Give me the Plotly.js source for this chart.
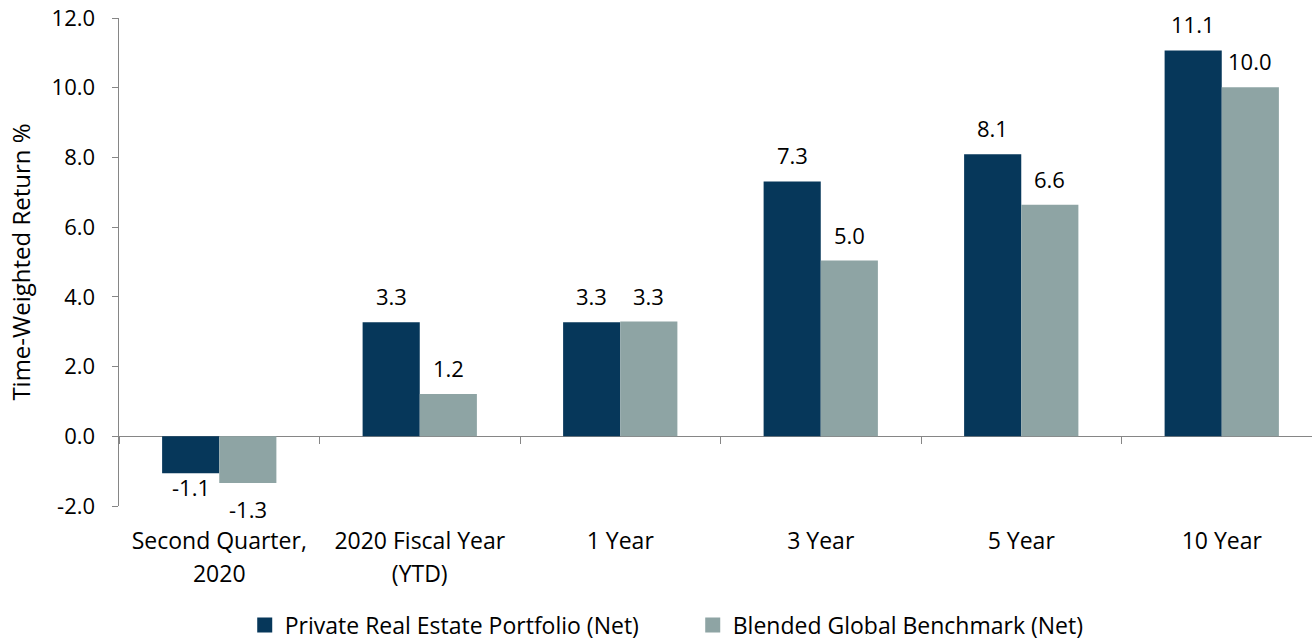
<!DOCTYPE html>
<html><head><meta charset="utf-8">
<script src="https://cdn.plot.ly/plotly-3.0.1.min.js"></script>
<style>html,body{margin:0;padding:0;background:#fff;overflow:hidden}#chart{width:1322px;height:641px}</style>
</head><body><div id="chart"></div>
<script>
const categories = ["Second Quarter,<br>2020", "2020 Fiscal Year<br>(YTD)", "1 Year", "3 Year", "5 Year", "10 Year"];
const seriesNames = ["Private Real Estate Portfolio (Net)", "Blended Global Benchmark (Net)"];
const portfolioNet = [-1.06, 3.27, 3.27, 7.31, 8.09, 11.07];
const benchmarkNet = [-1.34, 1.21, 3.29, 5.04, 6.64, 10.01];
const yTickVals = [-2, 0, 2, 4, 6, 8, 10, 12];

const colors = ["#06375a", "#8ea4a4"];
const FONT = "'Open Sans', sans-serif";
const W = 1322, H = 641, ML = 119, MR = 0, MT = 18, MB = 135;
const bargap = 0.43;
const barPx = (W - ML - MR) / categories.length * (1 - bargap) / 2;
const XTICK_SIZE = 23, YTICK_SIZE = 22, LINE_SIZE = 25;

const series = [portfolioNet, benchmarkNet];
const traces = series.map((vals, i) => ({
  type: "bar", x: categories, y: vals, name: seriesNames[i],
  marker: {color: colors[i]}, showlegend: false, hoverinfo: "x+y"
}));
series.forEach((vals, i) => traces.push({
  type: "scatter", mode: "markers", x: [categories[0]], y: [null], name: seriesNames[i],
  marker: {symbol: "square", size: 15, color: colors[i]}, showlegend: true, hoverinfo: "skip"
}));
traces.push({type: "scatter", mode: "lines", x: categories, y: categories.map(() => null),
  xaxis: "x2", showlegend: false, hoverinfo: "skip"});

const annotations = [];
series.forEach((vals, i) => vals.forEach((v, j) => {
  let ys = v >= 0 ? 26 : -14;
  if (v < 0 && i === 1) ys = -26;
  annotations.push({
    x: categories[j], y: v, xref: "x", yref: "y", text: v.toFixed(1), showarrow: false,
    xshift: (i === 0 ? -1 : 1) * barPx / 2, yshift: ys, yanchor: "middle", xanchor: "center",
    font: {family: FONT, size: 22, color: "#000"}
  });
}));

const tickText = categories.map(c => c.split("<br>").map(s => `<span style="font-size:${XTICK_SIZE}px">${s}</span>`).join("<br>"));

const layout = {
  width: W, height: H, margin: {l: ML, r: MR, t: MT, b: MB},
  paper_bgcolor: "#fff", plot_bgcolor: "#fff",
  font: {family: FONT, size: 22, color: "#000"},
  barmode: "group", bargap: bargap, bargroupgap: 0,
  xaxis: {type: "category", showline: false, ticks: "", showgrid: false, zeroline: false,
    tickvals: categories, ticktext: tickText,
    tickfont: {family: FONT, size: LINE_SIZE, color: "#000"}, ticklabelstandoff: 17},
  xaxis2: {type: "category", overlaying: "x", matches: "x", anchor: "free", position: 2 / 14,
    side: "bottom", showline: false, ticks: "outside", tickson: "boundaries", ticklen: 7,
    tickcolor: "#868686", showticklabels: false, showgrid: false},
  yaxis: {range: [-2, 12], tickvals: yTickVals, ticktext: yTickVals.map(v => v.toFixed(1)), showgrid: false,
    showline: true, linecolor: "#868686", linewidth: 1.5, ticks: "outside", ticklen: 6, tickcolor: "#868686",
    zeroline: true, zerolinecolor: "#868686", zerolinewidth: 1.5,
    tickfont: {family: FONT, size: YTICK_SIZE, color: "#000"}, ticklabelstandoff: 12,
    title: {text: "Time-Weighted Return %", font: {family: FONT, size: 24, color: "#000"}, standoff: 14}},
  legend: {orientation: "h", xref: "container", yref: "container", x: 0.524, xanchor: "center",
    y: 0.025, yanchor: "middle", font: {family: FONT, size: 23, color: "#000"}, itemwidth: 30,
    entrywidth: 403},
  annotations: annotations
};
Plotly.newPlot("chart", traces, layout, {displayModeBar: false, staticPlot: true});
</script></body></html>
